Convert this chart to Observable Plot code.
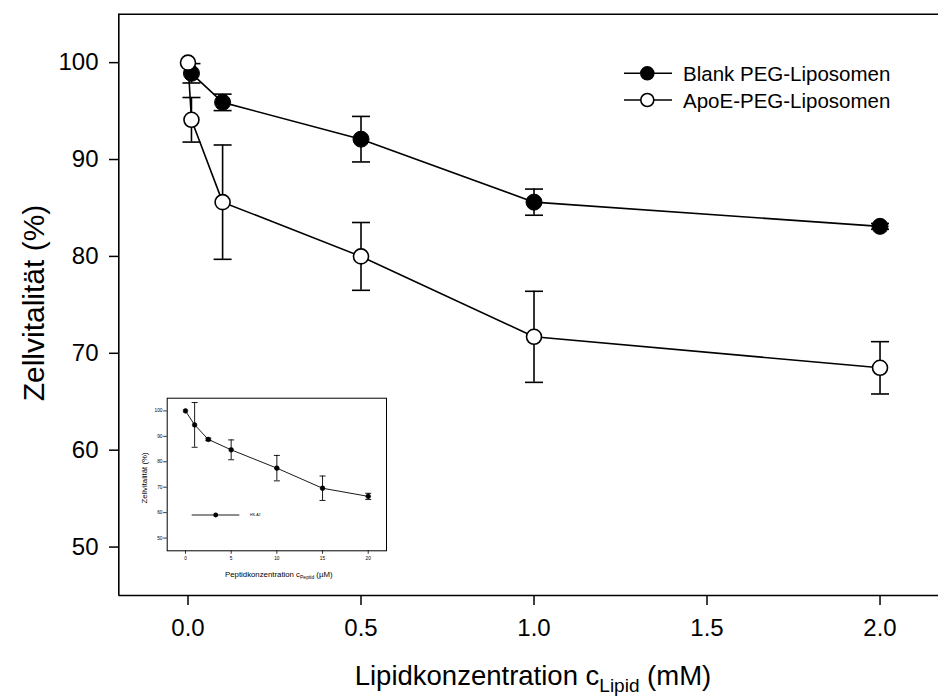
<!DOCTYPE html>
<html><head><meta charset="utf-8">
<script src="https://cdn.jsdelivr.net/npm/d3@7"></script>
<script src="https://cdn.jsdelivr.net/npm/@observablehq/plot@0.6"></script>
<style>
html,body{margin:0;padding:0;background:#fff;}
#wrap{position:relative;width:938px;height:696px;overflow:hidden;background:#fff;}
#wrap svg{display:block;}
#inset{position:absolute;left:140px;top:355px;}
</style></head><body>
<div id="wrap"><div id="main"></div><div id="inset"></div></div>
<script>
// ---- main chart data ----
const seriesNames = ["Blank PEG-Liposomen", "ApoE-PEG-Liposomen"];
const blankX = [0.01, 0.1, 0.5, 1.0, 2.0];
const blankY = [98.9, 95.9, 92.1, 85.6, 83.1];
const blankErr = [1.0, 0.85, 2.35, 1.35, 0.3];
const apoeX = [0.0, 0.01, 0.1, 0.5, 1.0, 2.0];
const apoeY = [100, 94.1, 85.6, 80.0, 71.7, 68.5];
const apoeErr = [0, 2.3, 5.9, 3.5, 4.7, 2.7];
const xTicks = [0, 0.5, 1.0, 1.5, 2.0];
const yTicks = [50, 60, 70, 80, 90, 100];
const xTitle = ["Lipidkonzentration c", "Lipid", " (mM)"];
const yTitle = "Zellvitalität (%)";

// ---- inset data ----
const insetX = [0, 1, 2.5, 5, 10, 15, 20];
const insetY = [100, 94.5, 88.8, 84.7, 77.5, 69.6, 66.4];
const insetErr = [0, 8.8, 0.5, 3.9, 5.0, 4.8, 1.2];
const insetXTicks = [0, 5, 10, 15, 20];
const insetYTicks = [50, 60, 70, 80, 90, 100];
const insetName = "HS-A2";
const insetXTitle = ["Peptidkonzentration c", "Peptid", " (µM)"];

const FONT = "'Liberation Sans', Arial, Helvetica, sans-serif";
const capSymbol = {draw(ctx, size) { const w = Math.sqrt(size / Math.PI); ctx.moveTo(-w, 0); ctx.lineTo(w, 0); }};

const blank = blankX.map((x, i) => ({x, y: blankY[i], e: blankErr[i]}));
const apoe = apoeX.map((x, i) => ({x, y: apoeY[i], e: apoeErr[i]}));
const errData = [...blank, ...apoe].filter(d => d.e > 0);

const main = Plot.plot({
  width: 938, height: 696,
  marginLeft: 118.3, marginRight: 0, marginTop: 13.7, marginBottom: 101,
  style: {fontFamily: FONT, color: "#000", background: "#fff", overflow: "visible"},
  x: {domain: [-0.2, 2.169]},
  y: {domain: [45, 105]},
  marks: [
    Plot.axisX({ticks: xTicks, tickFormat: d3.format(".1f"), tickSize: 10, tickPadding: 13, strokeWidth: 1.5, fontSize: 24, label: null}),
    Plot.axisY({ticks: yTicks, tickSize: 9.3, tickPadding: 11, strokeWidth: 1.5, fontSize: 24, label: null}),
    Plot.ruleX([-0.2], {stroke: "#000", strokeWidth: 1.6}),
    Plot.ruleY([45, 105], {stroke: "#000", strokeWidth: 1.6}),
    Plot.line(blank, {x: "x", y: "y", stroke: "#000", strokeWidth: 1.6}),
    Plot.line(apoe, {x: "x", y: "y", stroke: "#000", strokeWidth: 1.6}),
    Plot.ruleX(errData, {x: "x", y1: d => d.y - d.e, y2: d => d.y + d.e, stroke: "#000", strokeWidth: 1.6}),
    Plot.dot(errData, {x: "x", y: d => d.y + d.e, symbol: capSymbol, r: 9, stroke: "#000", strokeWidth: 1.6}),
    Plot.dot(errData, {x: "x", y: d => d.y - d.e, symbol: capSymbol, r: 9, stroke: "#000", strokeWidth: 1.6}),
    Plot.dot(blank, {x: "x", y: "y", r: 8, fill: "#000", stroke: "#000", strokeWidth: 1}),
    Plot.dot(apoe, {x: "x", y: "y", r: 7.5, fill: "#fff", stroke: "#000", strokeWidth: 1.6})
  ]
});
document.getElementById("main").appendChild(main);

const svg = d3.select(main);
// x title with subscript
const xt = svg.append("text").attr("x", 533).attr("y", 685).attr("text-anchor", "middle")
  .attr("font-family", FONT).attr("font-size", 27.5).attr("fill", "#000");
xt.append("tspan").text(xTitle[0]);
xt.append("tspan").attr("font-size", 19).attr("dy", 7).text(xTitle[1]);
xt.append("tspan").attr("dy", -7).text(xTitle[2]);
// y title
svg.append("text").attr("transform", "translate(33,303) rotate(-90)").attr("text-anchor", "middle")
  .attr("dominant-baseline", "central").attr("font-family", FONT).attr("font-size", 30).attr("fill", "#000").text(yTitle);
// legend
[[73.3, "#000"], [100, "#fff"]].forEach(([ly, fill], i) => {
  const g = svg.append("g");
  g.append("line").attr("x1", 624).attr("x2", 672).attr("y1", ly).attr("y2", ly).attr("stroke", "#000").attr("stroke-width", 1.6);
  g.append("circle").attr("cx", 647.3).attr("cy", ly).attr("r", 6.5).attr("fill", fill).attr("stroke", "#000").attr("stroke-width", 1.6);
  g.append("text").attr("x", 683).attr("y", ly).attr("text-anchor", "start").attr("dominant-baseline", "central").attr("font-family", FONT)
    .attr("font-size", 20.5).attr("fill", "#000").text(seriesNames[i]);
});

// ---- inset ----
const ins = insetX.map((x, i) => ({x, y: insetY[i], e: insetErr[i]}));
const insErr = ins.filter(d => d.e > 0);
const inset = Plot.plot({
  width: 260, height: 240,
  marginLeft: 26.7, marginRight: 14, marginTop: 42.7, marginBottom: 44.7,
  style: {fontFamily: FONT, color: "#000", background: "transparent", overflow: "visible"},
  x: {domain: [-2, 22]},
  y: {domain: [45, 105]},
  marks: [
    Plot.frame({fill: "#fff", stroke: "#000", strokeWidth: 1}),
    Plot.axisX({ticks: insetXTicks, tickSize: 3.5, tickPadding: 2.5, fontSize: 4.8, strokeWidth: 0.8, label: null}),
    Plot.axisY({ticks: insetYTicks, tickSize: 3.5, tickPadding: 1.2, fontSize: 4.8, strokeWidth: 0.8, label: null}),
    Plot.line(ins, {x: "x", y: "y", stroke: "#000", strokeWidth: 0.9}),
    Plot.ruleX(insErr, {x: "x", y1: d => d.y - d.e, y2: d => d.y + d.e, stroke: "#000", strokeWidth: 0.9}),
    Plot.dot(insErr, {x: "x", y: d => d.y + d.e, symbol: capSymbol, r: 3, stroke: "#000", strokeWidth: 0.9}),
    Plot.dot(insErr, {x: "x", y: d => d.y - d.e, symbol: capSymbol, r: 3, stroke: "#000", strokeWidth: 0.9}),
    Plot.dot(ins, {x: "x", y: "y", r: 2.4, fill: "#000", stroke: "#000", strokeWidth: 0.5})
  ]
});
document.getElementById("inset").appendChild(inset);
const isvg = d3.select(inset);
const ixt = isvg.append("text").attr("x", 138.8).attr("y", 221.5).attr("text-anchor", "middle")
  .attr("font-family", FONT).attr("font-size", 7.8).attr("fill", "#000");
ixt.append("tspan").text(insetXTitle[0]);
ixt.append("tspan").attr("font-size", 5).attr("dy", 2.2).text(insetXTitle[1]);
ixt.append("tspan").attr("dy", -2.2).text(insetXTitle[2]);
isvg.append("text").attr("transform", "translate(4.3,123) rotate(-90)").attr("text-anchor", "middle")
  .attr("dominant-baseline", "central").attr("font-family", FONT).attr("font-size", 7.8).attr("fill", "#000").text(yTitle);
isvg.append("line").attr("x1", 51.7).attr("x2", 99.3).attr("y1", 160).attr("y2", 160).attr("stroke", "#000").attr("stroke-width", 0.9);
isvg.append("circle").attr("cx", 75.7).attr("cy", 160).attr("r", 2.4).attr("fill", "#000");
isvg.append("text").attr("x", 110).attr("y", 160).attr("text-anchor", "start").attr("dominant-baseline", "central").attr("font-family", FONT)
  .attr("font-size", 3.6).attr("fill", "#000").text(insetName);
</script>
</body></html>
